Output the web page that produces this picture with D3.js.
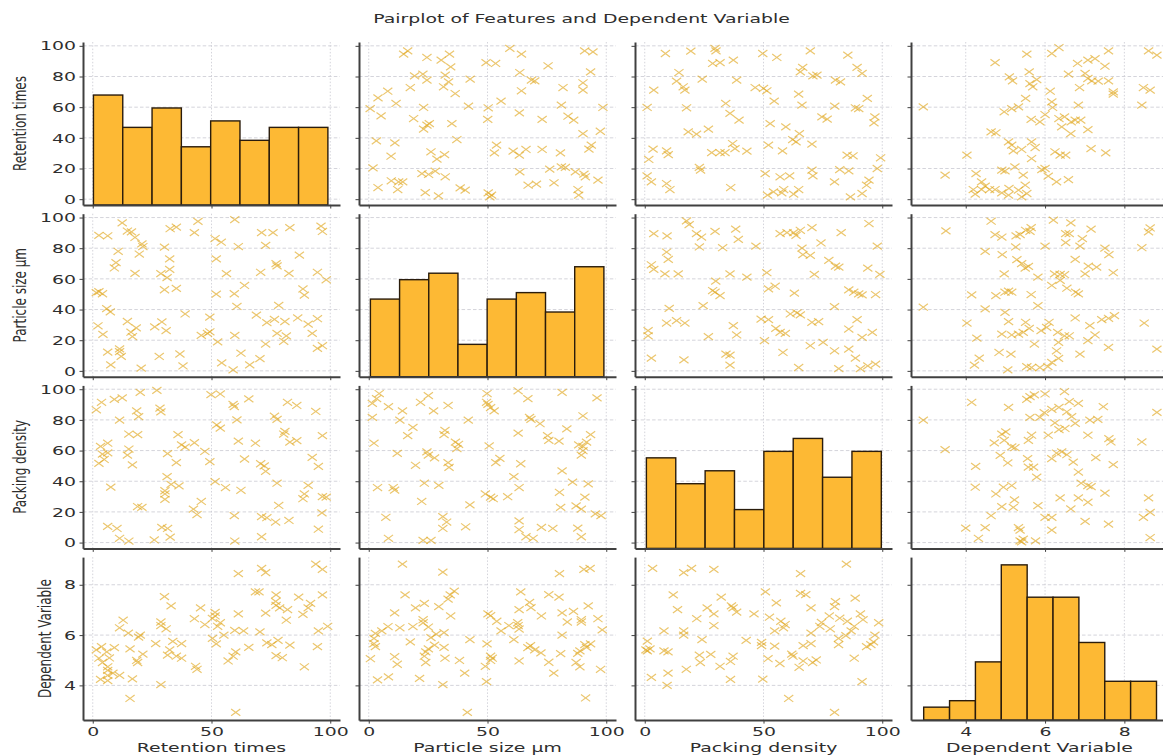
<!DOCTYPE html>
<html>
<head>
<meta charset="utf-8">
<script src="https://cdn.jsdelivr.net/npm/d3@7"></script>
<style>
  body { margin: 0; background: #fff; }
  svg { display: block; font-family: "DejaVu Sans", sans-serif; }
</style>
</head>
<body>
<svg id="chart" width="1163" height="756"></svg>
<script>
// ---- variables and ticks ----
const variables = ["Retention times", "Particle size µm", "Packing density", "Dependent Variable"];
const featureYTicks = [0, 20, 40, 60, 80, 100];
const featureXTicks = [0, 50, 100];
const dependentTicks = [4, 6, 8];

// ---- diagonal histograms (counts per bin, bin range) ----
const histRetention = [17, 12, 15, 9, 13, 10, 12, 12];
const histParticle  = [12, 15, 16, 5, 12, 13, 10, 17];
const histPacking   = [14, 10, 12, 6, 15, 17, 11, 15];
const histDependent = [2, 3, 9, 24, 19, 19, 12, 6, 6];
const binRangeRetention = [0.3, 99.0];
const binRangeParticle  = [0.7, 99.0];
const binRangePacking   = [0.7, 99.6];
const binRangeDependent = [2.94, 8.81];

// ---- pairwise samples: [x variable, y variable] ----
// x = Particle size, y = Retention times
const retentionByParticle = [
  [14.7,94.6],[16.4,96.7],[24.5,92.4],[30.5,90.7],[34.0,94.6],[34.5,86.3],[19.3,80.4],[22.8,81.5],[24.5,77.6],[32.2,80.9],
  [33.6,76.5],[17.5,72.8],[31.5,73.3],[42.7,78.3],[36.4,68.9],[8.0,70.4],[3.9,66.1],[11.5,62.4],[0.6,59.1],[5.2,54.3],
  [18.9,52.6],[23.1,59.8],[42.0,60.7],[24.5,48.3],[25.5,49.3],[23.1,45.7],[35.0,49.3],[3.2,38.0],[11.0,36.7],[37.1,38.9],
  [9.4,28.0],[26.2,30.9],[31.9,29.1],[28.7,26.1],[1.8,20.4],[22.4,16.7],[25.2,16.1],[28.0,18.3],[32.2,14.6],[9.5,12.0],
  [12.6,11.3],[14.3,11.3],[3.9,7.6],[12.2,6.3],[23.8,4.3],[29.4,2.2],[38.5,7.4],[40.6,5.9],[50.3,4.1],[51.0,1.5],
  [49.4,89.1],[53.4,88.5],[59.4,98.3],[64.3,94.6],[75.5,87.0],[90.9,96.7],[94.4,96.1],[63.6,82.6],[68.5,77.6],[69.9,77.2],
  [93.4,83.0],[90.2,75.9],[90.2,71.1],[81.8,72.8],[64.3,70.7],[55.7,63.9],[50.3,59.6],[50.1,52.0],[63.4,56.3],[73.0,52.0],
  [81.1,61.3],[83.9,54.1],[86.3,51.5],[98.6,59.8],[90.2,42.8],[97.5,44.3],[53.8,35.2],[52.9,30.2],[60.8,31.3],[63.4,28.7],
  [66.2,32.4],[73.0,32.4],[80.7,30.2],[93.7,35.2],[92.7,32.6],[63.6,17.8],[76.2,19.6],[81.1,21.1],[82.8,20.7],[87.0,17.8],
  [90.6,16.3],[91.2,14.6],[96.5,12.4],[78.0,10.7],[67.1,9.1],[70.6,9.8],[88.1,6.3],[88.4,2.6],[51.7,2.6]
];
// x = Packing density, y = Retention times
const retentionByPacking = [
  [8.7,95.0],[19.4,96.5],[29.6,98.3],[30.0,96.7],[28.6,88.5],[31.7,89.1],[37.3,90.7],[14.4,82.6],[13.4,77.0],[16.2,73.3],
  [16.9,71.1],[24.2,78.3],[38.7,77.6],[3.8,71.1],[1.0,59.8],[17.6,59.6],[34.1,62.4],[35.9,55.9],[39.7,51.5],[18.3,43.9],
  [21.8,42.4],[26.8,45.7],[3.5,32.6],[9.2,31.5],[9.9,29.1],[1.7,25.9],[28.2,30.4],[31.7,30.4],[33.8,30.4],[37.0,36.3],
  [38.0,33.0],[43.0,31.3],[23.0,20.7],[23.5,18.9],[1.0,15.2],[2.8,11.3],[9.2,10.2],[10.6,6.3],[36.2,7.6],[49.7,95.0],
  [55.6,92.4],[69.7,96.7],[85.5,93.9],[66.5,85.9],[65.5,83.0],[70.8,80.4],[72.5,80.9],[80.3,77.6],[82.4,76.5],[89.4,85.9],
  [91.5,82.0],[46.5,72.8],[50.0,72.2],[51.4,70.7],[54.5,63.9],[64.8,68.5],[66.2,61.3],[80.0,60.7],[88.7,59.6],[93.7,65.7],
  [90.1,59.1],[74.6,53.7],[76.8,52.2],[52.8,49.3],[59.4,47.2],[96.9,53.7],[96.5,49.8],[62.3,38.9],[63.7,37.4],[65.1,42.8],
  [52.1,35.2],[58.0,31.5],[70.4,35.9],[85.2,28.7],[87.7,28.3],[99.3,27.0],[50.7,16.7],[57.0,14.6],[61.0,15.2],[70.4,18.9],
  [70.8,15.2],[82.1,19.3],[85.9,18.5],[79.9,11.3],[97.9,20.0],[94.4,12.4],[93.4,9.1],[91.5,3.7],[86.6,1.5],[51.7,2.6],
  [54.2,4.8],[58.5,6.3],[62.7,3.3],[64.8,6.3],[57.7,4.1]
];
// x = Dependent Variable, y = Retention times
const retentionByDependent = [
  [2.93,60.2],[3.48,15.7],[4.03,28.7],[4.26,16.7],[4.40,11.3],[4.49,8.5],[4.19,6.3],[4.24,3.3],[4.40,6.3],[4.74,89.1],
  [5.10,79.8],[5.18,77.2],[5.54,94.6],[5.60,83.0],[5.62,75.4],[5.69,73.3],[5.79,78.0],[5.51,65.7],[4.97,57.0],[5.16,59.1],
  [5.33,60.2],[5.65,52.0],[5.87,50.4],[4.64,43.9],[4.76,43.3],[5.08,37.4],[5.16,35.2],[5.20,31.5],[5.41,32.4],[5.66,37.4],
  [5.75,33.7],[5.66,26.5],[4.91,18.9],[4.99,18.5],[5.24,21.1],[5.45,15.7],[4.74,6.3],[4.91,4.1],[5.08,2.6],[5.33,5.9],
  [5.50,9.1],[5.54,3.7],[5.92,19.3],[6.00,20.0],[6.08,15.0],[6.29,11.3],[6.59,12.8],[6.17,95.0],[6.35,98.9],[6.82,88.5],
  [6.59,81.5],[7.08,90.7],[7.26,91.7],[7.60,96.7],[7.51,86.7],[7.01,82.0],[7.08,78.7],[7.18,77.2],[7.34,77.0],[7.60,77.2],
  [7.72,70.0],[7.72,68.5],[6.13,70.4],[6.17,63.5],[6.19,59.8],[6.00,55.2],[6.35,52.6],[6.49,53.7],[6.66,50.4],[6.76,51.5],
  [6.90,51.5],[6.84,61.3],[6.87,72.8],[6.42,47.2],[6.65,42.8],[7.08,45.4],[6.25,30.9],[6.38,28.7],[6.52,28.7],[7.16,33.0],
  [7.53,30.2],[8.44,61.3],[8.48,72.8],[8.65,71.1],[8.61,96.7],[8.82,93.9],[4.60,6.3],[5.41,1.5],[5.09,7.0]
];
// x = Packing density, y = Particle size
const particleByPacking = [
  [3.8,89.5],[9.4,88.0],[17.6,97.8],[18.7,95.4],[21.8,89.5],[23.9,87.3],[29.6,91.0],[38.3,92.4],[39.4,85.8],[23.0,80.8],
  [32.8,80.3],[46.8,81.4],[9.2,77.5],[9.9,72.7],[2.8,69.2],[3.8,66.2],[8.5,63.3],[14.1,63.3],[29.9,58.5],[35.9,63.3],
  [43.0,61.1],[28.6,52.4],[29.6,51.3],[31.7,49.1],[24.6,42.6],[10.3,40.8],[9.2,31.2],[13.4,32.8],[16.9,31.2],[1.4,26.2],
  [1.4,22.9],[26.8,22.3],[37.3,29.5],[38.7,23.4],[2.8,8.3],[16.5,7.2],[34.2,10.9],[35.9,10.3],[35.9,3.7],[57.0,89.5],
  [59.9,90.2],[62.7,90.2],[63.7,88.4],[65.5,91.7],[70.4,93.4],[74.2,83.4],[82.7,90.2],[94.4,96.1],[97.9,81.4],[66.2,80.1],
  [66.6,75.8],[69.7,75.3],[77.5,72.1],[80.3,68.3],[81.7,67.7],[93.9,67.0],[99.0,62.9],[51.4,64.0],[71.4,62.9],[52.1,53.5],
  [54.9,55.2],[63.0,50.7],[85.9,52.8],[88.0,51.3],[90.1,50.2],[91.5,49.6],[97.2,49.8],[79.9,41.9],[61.3,37.1],[64.1,37.8],
  [65.5,36.5],[70.4,31.7],[73.2,32.1],[89.4,33.4],[49.0,33.8],[52.1,33.4],[55.2,27.7],[57.0,25.1],[59.2,24.5],[85.9,27.3],
  [91.5,21.8],[95.8,25.1],[50.4,19.7],[69.7,16.4],[75.1,18.6],[79.9,13.1],[85.9,14.2],[88.7,8.3],[58.2,12.0],[64.8,2.2],
  [81.7,1.5],[90.8,1.5],[93.9,3.3],[97.2,4.4]
];
// x = Dependent Variable, y = Particle size
const particleByDependent = [
  [2.93,41.5],[3.50,91.3],[4.03,31.2],[4.15,49.6],[4.28,21.4],[4.34,8.3],[4.22,3.7],[4.49,40.4],[4.49,77.9],[4.64,97.6],
  [4.74,88.9],[4.91,87.3],[4.92,75.8],[4.76,49.1],[4.99,51.3],[5.08,52.0],[5.16,51.3],[4.97,63.3],[4.99,38.2],[5.08,32.1],
  [4.91,24.0],[5.16,23.4],[5.27,88.0],[5.37,88.9],[5.51,91.7],[5.65,93.4],[5.62,91.0],[5.26,80.8],[5.29,72.5],[5.41,69.9],
  [5.50,67.0],[5.58,68.1],[5.82,61.1],[5.65,49.8],[5.82,42.6],[5.51,31.7],[5.60,27.7],[5.33,24.0],[5.45,25.1],[5.73,17.5],
  [5.90,26.2],[4.84,12.0],[5.14,10.9],[5.06,0.7],[5.54,2.8],[5.66,2.2],[5.87,2.2],[6.00,81.4],[6.21,98.3],[6.52,89.5],
  [6.61,89.5],[6.65,96.5],[6.52,83.6],[6.88,81.4],[6.94,86.2],[7.16,92.4],[6.76,72.7],[7.09,68.3],[7.30,67.7],[7.01,63.3],
  [7.51,80.1],[7.61,75.8],[7.72,64.0],[6.24,63.3],[6.38,62.9],[6.49,62.7],[6.38,59.0],[6.17,55.7],[6.55,53.9],[6.77,51.3],
  [6.84,50.2],[6.10,31.7],[6.04,28.4],[6.32,25.1],[6.49,22.9],[6.61,22.9],[6.76,34.5],[7.13,29.5],[7.26,23.4],[7.08,19.7],
  [7.43,33.4],[7.60,34.3],[7.75,36.0],[7.60,15.3],[6.34,18.6],[6.29,13.1],[6.34,8.1],[6.17,5.5],[6.07,2.8],[6.88,10.9],
  [8.44,80.3],[8.65,93.2],[8.61,90.6],[8.50,31.2],[8.82,14.2]
];
// x = Dependent Variable, y = Packing density
const packingByDependent = [
  [2.93,79.9],[3.48,60.6],[4.15,91.5],[4.25,49.7],[4.24,36.1],[4.64,17.5],[4.76,31.7],[4.00,9.4],[4.32,2.8],[4.49,9.8],
  [4.72,65.0],[4.87,56.9],[4.91,70.7],[5.01,72.2],[4.97,66.7],[5.08,88.2],[5.06,51.9],[5.16,62.4],[5.24,61.9],[4.95,36.1],
  [5.16,37.2],[4.91,23.4],[5.23,27.8],[5.20,23.0],[5.33,9.8],[5.37,8.1],[5.37,1.1],[5.45,2.2],[5.41,0.5],[5.54,93.4],
  [5.62,95.2],[5.73,96.3],[6.00,96.9],[5.62,81.6],[5.87,81.6],[5.58,66.7],[5.66,70.0],[5.56,54.7],[5.58,49.2],[5.71,49.2],
  [5.79,42.7],[5.82,24.1],[5.76,1.1],[5.98,84.7],[6.17,86.9],[6.35,88.2],[6.49,98.5],[6.61,91.9],[6.84,90.8],[6.55,85.3],
  [6.67,82.1],[6.25,78.1],[6.35,73.7],[6.50,74.4],[6.76,77.7],[7.13,79.9],[7.33,80.3],[7.47,88.6],[7.08,70.0],[6.08,70.0],
  [6.17,54.7],[6.29,58.4],[6.42,59.1],[6.55,57.3],[6.71,52.5],[6.84,46.0],[7.28,55.4],[7.72,50.8],[7.61,67.8],[7.66,65.6],
  [6.91,38.7],[7.08,37.2],[7.16,36.5],[6.38,29.1],[6.84,29.1],[7.08,26.3],[7.51,32.2],[6.65,21.9],[6.17,16.4],[6.17,8.1],
  [7.01,13.8],[7.60,12.0],[8.44,65.6],[8.82,84.9],[8.61,29.1],[8.48,16.4],[8.65,19.7],[8.65,3.3],[6.00,16.4]
];

// ---- layout ----
const colLeft = [83, 359, 635, 911];
const rowTop = [42, 213.7, 385.4, 557.1];
const panelW = 257, panelH = 163;
const STRETCH = 1.45;   // horizontal glyph stretch of all text
const BAR_FILL = "#fdb934", BAR_EDGE = "#2a1c0c";
const MARK = "#e0a823";
const TEXT = "#2e2e2e";

const svg = d3.select("#chart");

const featureXDomain = [-4.1, 104.1];
const featureYDomain = [-3.8, 102.5];
const dependentDomain = [2.62, 9.10];

const xScales = colLeft.map((l, j) =>
  d3.scaleLinear().domain(j < 3 ? featureXDomain : dependentDomain).range([l, l + panelW]));
const yScales = rowTop.map((t, i) =>
  d3.scaleLinear().domain(i < 3 ? featureYDomain : dependentDomain).range([t + panelH, t]));
const xTicks = j => (j < 3 ? featureXTicks : dependentTicks);
const yTicks = i => (i < 3 ? featureYTicks : dependentTicks);

const hists = [
  { counts: histRetention, range: binRangeRetention },
  { counts: histParticle, range: binRangeParticle },
  { counts: histPacking, range: binRangePacking },
  { counts: histDependent, range: binRangeDependent }
];

// pair lookup: key "a-b" (a<b) holds [value of b, value of a]
const pairs = {
  "0-1": retentionByParticle,
  "0-2": retentionByPacking,
  "0-3": retentionByDependent,
  "1-2": particleByPacking,
  "1-3": particleByDependent,
  "2-3": packingByDependent
};

const xMark = "M-4.6,-3.4L4.6,3.4M-4.6,3.4L4.6,-3.4";

function stretchLeftLabels(g) {
  g.selectAll(".tick text").each(function () {
    const t = d3.select(this);
    const x = +t.attr("x");
    t.attr("x", 0).attr("transform", `translate(${x},0) scale(${STRETCH},1)`);
  });
}
function stretchBottomLabels(g) {
  g.selectAll(".tick text").attr("transform", `scale(${STRETCH},1)`);
}

for (let i = 0; i < 4; i++) {
  for (let j = 0; j < 4; j++) {
    const xs = xScales[j], ys = yScales[i];
    const left = colLeft[j], top = rowTop[i];
    const bottom = top + panelH, right = left + panelW;
    const panel = svg.append("g").attr("class", `panel p${i}${j}`);

    // grid
    const grid = panel.append("g").attr("class", "grid");
    grid.selectAll("line.h").data(yTicks(i)).join("line")
      .attr("class", "h")
      .attr("x1", left).attr("x2", right)
      .attr("y1", d => ys(d)).attr("y2", d => ys(d))
      .attr("stroke", "#c9c9d2").attr("stroke-width", 0.8).attr("stroke-dasharray", "3.5,2.2");
    grid.selectAll("line.v").data(xTicks(j)).join("line")
      .attr("class", "v")
      .attr("y1", top).attr("y2", bottom)
      .attr("x1", d => xs(d)).attr("x2", d => xs(d))
      .attr("stroke", "#c9c9d2").attr("stroke-width", 0.8).attr("stroke-dasharray", "1.5,1.8");

    if (i === j) {
      // diagonal histogram
      const h = hists[i];
      const n = h.counts.length;
      const step = (h.range[1] - h.range[0]) / n;
      const bins = h.counts.map((c, k) => ({ x0: h.range[0] + k * step, x1: h.range[0] + (k + 1) * step, count: c }));
      const cs = d3.scaleLinear().domain([0, 25.2]).range([bottom, top]);
      panel.append("g").selectAll("rect").data(bins).join("rect")
        .attr("x", d => xs(d.x0))
        .attr("width", d => xs(d.x1) - xs(d.x0))
        .attr("y", d => cs(d.count))
        .attr("height", d => cs(0) - cs(d.count))
        .attr("fill", BAR_FILL)
        .attr("stroke", BAR_EDGE).attr("stroke-width", 1.4);
    } else {
      const a = Math.min(i, j), b = Math.max(i, j);
      const pts = pairs[`${a}-${b}`];
      // upper panels: x = var b, y = var a ; lower panels transposed
      const getX = i < j ? d => d[0] : d => d[1];
      const getY = i < j ? d => d[1] : d => d[0];
      panel.append("g").selectAll("path").data(pts).join("path")
        .attr("d", xMark)
        .attr("transform", d => `translate(${xs(getX(d))},${ys(getY(d))})`)
        .attr("fill", "none")
        .attr("stroke", MARK).attr("stroke-width", 1.2).attr("stroke-opacity", 0.66);
    }

    // axes (spines + ticks)
    const yAxis = d3.axisLeft(ys).tickValues(yTicks(i)).tickSize(3.5).tickSizeOuter(0).tickPadding(3.5)
      .tickFormat(j === 0 ? d3.format("d") : () => "");
    const gy = panel.append("g").attr("transform", `translate(${left},0)`).call(yAxis);
    const xAxis = d3.axisBottom(xs).tickValues(xTicks(j)).tickSize(3.5).tickSizeOuter(0).tickPadding(3)
      .tickFormat(i === 3 ? d3.format("d") : () => "");
    const gx = panel.append("g").attr("transform", `translate(0,${bottom})`).call(xAxis);
    [gx, gy].forEach(g => {
      g.select(".domain").attr("stroke", "#404040").attr("stroke-width", 2);
      g.selectAll(".tick line").attr("stroke", "#404040").attr("stroke-width", 1);
      g.selectAll(".tick text").attr("fill", TEXT).style("font-size", "13px").style("font-family", "DejaVu Sans");
    });
    stretchLeftLabels(gy);
    stretchBottomLabels(gx);
  }
}

// x axis titles
variables.forEach((v, j) => {
  svg.append("text")
    .attr("transform", `translate(${colLeft[j] + panelW / 2},752) scale(${STRETCH},1)`)
    .attr("text-anchor", "middle")
    .attr("fill", TEXT).style("font-size", "13px")
    .text(v);
});

// y axis titles
const yTitleX = [20, 20, 20, 45];
variables.forEach((v, i) => {
  svg.append("text")
    .attr("transform", `translate(${yTitleX[i]},${rowTop[i] + panelH / 2}) scale(${STRETCH},1) rotate(-90)`)
    .attr("text-anchor", "middle")
    .attr("dy", "0.36em")
    .attr("fill", TEXT).style("font-size", "12px")
    .text(v);
});

// figure title
svg.append("text")
  .attr("transform", `translate(581.5,22.5) scale(${STRETCH},1)`)
  .attr("text-anchor", "middle")
  .attr("fill", TEXT).style("font-size", "13px")
  .text("Pairplot of Features and Dependent Variable");
</script>
</body>
</html>
